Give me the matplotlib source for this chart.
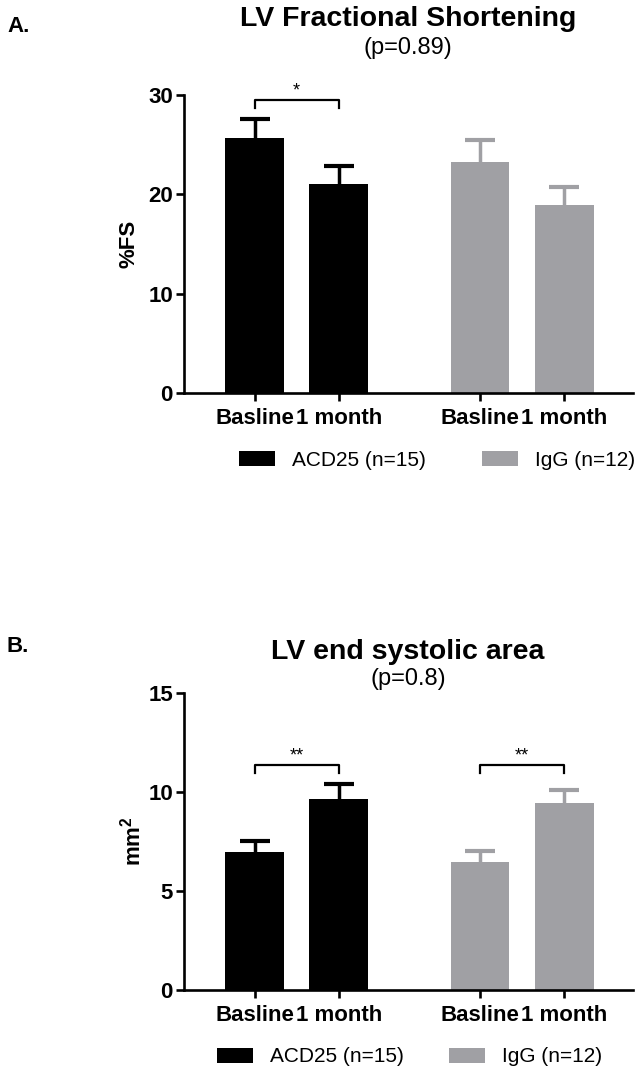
import matplotlib
matplotlib.use("Agg")
import matplotlib.pyplot as plt
from matplotlib.patches import Patch

plt.rcParams['font.family'] = ['Liberation Sans', 'DejaVu Sans']
plt.rcParams['mathtext.fontset'] = 'custom'
plt.rcParams['mathtext.rm'] = 'Liberation Sans'
plt.rcParams['mathtext.bf'] = 'Liberation Sans:bold'

# Data (mean, SEM)
timepoints = ["Basline", "1 month"]
groups = ["ACD25 (n=15)", "IgG (n=12)"]

fs_acd25 = [25.7, 21.0]
fs_acd25_sem = [1.9, 1.9]
fs_igg = [23.3, 18.9]
fs_igg_sem = [2.2, 1.8]

esa_acd25 = [6.95, 9.65]
esa_acd25_sem = [0.55, 0.75]
esa_igg = [6.48, 9.43]
esa_igg_sem = [0.55, 0.68]

# significance brackets: (bar index 1, bar index 2, label)
fs_sig = [(0, 1, "*")]
esa_sig = [(0, 1, "**"), (2, 3, "**")]

black = "#000000"
gray = "#a0a0a4"


def draw_panel(ax, m_a, s_a, m_b, s_b, ymax, ystep, ylabel, sig):
    x = [0, 1, 2.68, 3.68]
    means = m_a + m_b
    sems = s_a + s_b
    colors = [black, black, gray, gray]
    ax.bar(x, means, width=0.7, color=colors, zorder=2)
    for xi, m, s, c in zip(x, means, sems, colors):
        eb = ax.errorbar(xi, m, yerr=[[0], [s]], color=c, elinewidth=2.5,
                         capsize=10.5, capthick=3, zorder=3)
        eb[1][0].remove()  # only the upper cap, like prism

    ax.set_xlim(-0.84, 4.5)
    ax.set_ylim(0, ymax)
    ax.set_yticks(range(0, ymax + 1, ystep))
    ax.set_xticks(x)
    ax.set_xticklabels(timepoints * 2)
    for side in ["top", "right"]:
        ax.spines[side].set_visible(False)
    for side in ["left", "bottom"]:
        ax.spines[side].set_linewidth(1.9)
    ax.tick_params(axis="both", width=1.9, length=6, labelsize=16)
    ax.tick_params(axis="x", pad=5)
    ax.tick_params(axis="y", pad=2)
    for lab in ax.get_xticklabels() + ax.get_yticklabels():
        lab.set_fontweight("bold")
    ax.set_ylabel(ylabel, fontsize=16, fontweight="bold")

    # brackets
    top = max(m + s for m, s in zip(means, sems))
    y_br = top + 0.063 * ymax
    drop = 0.025 * ymax
    for i, j, txt in sig:
        ax.plot([x[i], x[i], x[j], x[j]], [y_br - drop, y_br, y_br, y_br - drop],
                color="black", lw=1.6, clip_on=False, zorder=4)
        ax.text((x[i] + x[j]) / 2, y_br + 0.03 * ymax, txt, ha="center",
                va="center", fontsize=13)


fig = plt.figure(figsize=(6.4, 10.75), dpi=100)

# Panel A
ax1 = fig.add_axes([0.2875, 0.6344, 0.7016, 0.2772])
draw_panel(ax1, fs_acd25, fs_acd25_sem, fs_igg, fs_igg_sem, 30, 10, "%FS", fs_sig)
ax1.yaxis.set_label_coords(-0.1, 0.5)
fig.text(7 / 640, 1 - 26 / 1075, "A.", fontsize=16, fontweight="bold", va="center")
fig.text(408 / 640, 1 - 19 / 1075, "LV Fractional Shortening", fontsize=20.5,
         fontweight="bold", ha="center", va="center")
fig.text(408 / 640, 1 - 48 / 1075, "(p=0.89)", fontsize=17, ha="center", va="center")

handles = [Patch(facecolor=black), Patch(facecolor=gray)]
ax1.legend(handles, groups, loc="center left", bbox_to_anchor=(239 / 640, 1 - 460 / 1075),
           bbox_transform=fig.transFigure, ncol=2, frameon=False, fontsize=15,
           borderpad=0, borderaxespad=0, handlelength=1.73, handleheight=0.7,
           handletextpad=0.8, columnspacing=2.7)

# Panel B
ax2 = fig.add_axes([0.2875, 0.0791, 0.7016, 0.2763])
draw_panel(ax2, esa_acd25, esa_acd25_sem, esa_igg, esa_igg_sem, 15, 5,
           r"mm$^{\mathbf{2}}$", esa_sig)
ax2.yaxis.set_label_coords(-0.085, 0.5)
fig.text(7 / 640, 1 - 646 / 1075, "B.", fontsize=16, fontweight="bold", va="center")
fig.text(408 / 640, 1 - 652 / 1075, "LV end systolic area", fontsize=20.5,
         fontweight="bold", ha="center", va="center")
fig.text(408 / 640, 1 - 679 / 1075, "(p=0.8)", fontsize=17, ha="center", va="center")

ax2.legend(handles, groups, loc="center left", bbox_to_anchor=(217 / 640, 1 - 1057 / 1075),
           bbox_transform=fig.transFigure, ncol=2, frameon=False, fontsize=15,
           borderpad=0, borderaxespad=0, handlelength=1.73, handleheight=0.7,
           handletextpad=0.8, columnspacing=2.2)

fig.savefig("out.png", dpi=100)
